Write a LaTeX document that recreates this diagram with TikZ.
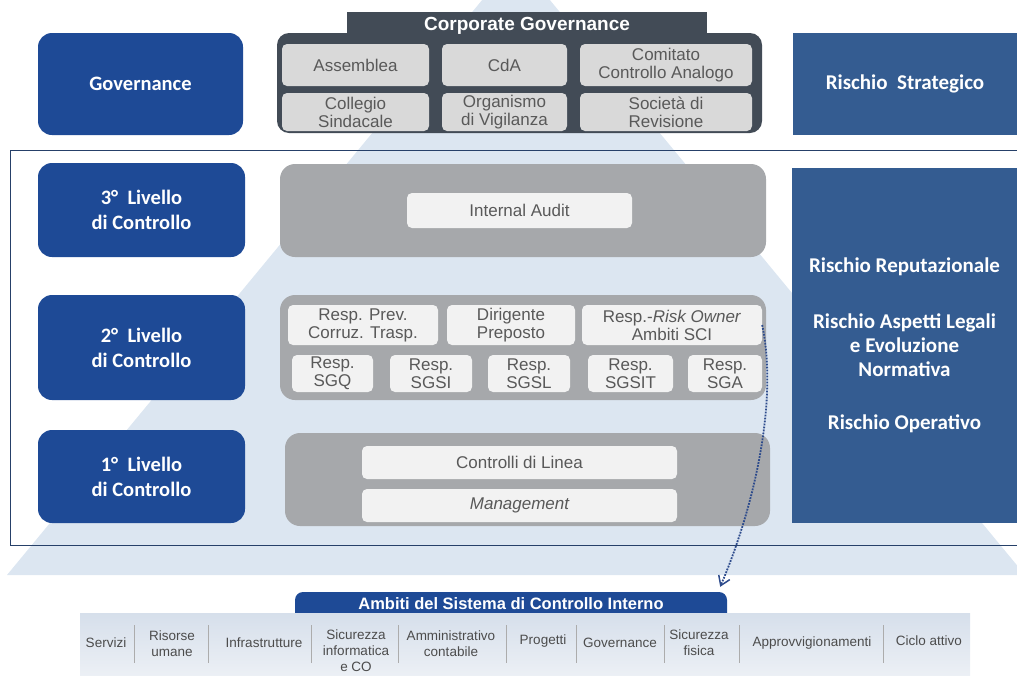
\documentclass[tikz,border=0pt]{standalone}
\usepackage{fontspec}
\setmainfont{Liberation Sans}
\newfontfamily\calibfont{Carlito}
\usetikzlibrary{arrows.meta}
\definecolor{lvlblue}{RGB}{30,74,150}
\definecolor{riskblue}{RGB}{52,92,145}
\definecolor{slate}{RGB}{66,75,86}
\definecolor{cglight}{RGB}{217,217,217}
\definecolor{levgray}{RGB}{166,168,171}
\definecolor{cellwhite}{RGB}{242,242,242}
\definecolor{pyramid}{RGB}{220,230,241}
\definecolor{txtgray}{RGB}{89,89,89}
\definecolor{framecol}{RGB}{38,64,105}
\definecolor{bandtop}{RGB}{214,223,235}
\definecolor{bandbot}{RGB}{236,240,245}
\definecolor{linkblue}{RGB}{45,75,140}
\tikzstyle{lvlbox}=[fill=lvlblue,rounded corners=14pt,text=white,align=center,inner sep=0pt,font=\calibfont\bfseries\fontsize{20.5}{25}\selectfont]
\tikzstyle{riskbox}=[fill=riskblue,text=white,align=center,inner sep=0pt,font=\calibfont\bfseries\fontsize{21}{24}\selectfont]
\tikzstyle{levelpanel}=[fill=levgray,rounded corners=15pt,inner sep=0pt]
\tikzstyle{cell}=[fill=cellwhite,rounded corners=5pt,text=txtgray,align=center,inner sep=0pt,font=\fontsize{17}{18}\selectfont]
\tikzstyle{cgcell}=[cell,fill=cglight]
\tikzstyle{ambitem}=[text=txtgray!85!black,align=center,inner sep=0pt,font=\fontsize{13.5}{16}\selectfont]
\tikzstyle{divider}=[draw=gray!65,line width=1pt]
\tikzstyle{dotlink}=[draw=linkblue,line width=1.8pt,dash pattern=on 1.8pt off 1.2pt,-{Straight Barb[length=9pt,width=12pt,line width=1.5pt]}]

\begin{document}
\begin{tikzpicture}[x=1pt,y=-1pt]
  \useasboundingbox (0,0) rectangle (1017,675);
  \fill[pyramid] (516,-41) -- (1025,575) -- (7,575) -- cycle;
  \draw[framecol,line width=0.8pt] (10,150) rectangle (1030,545);

  \node[lvlbox,minimum width=205,minimum height=102] (gov) at (140.5,84) {Governance};
  \node[fill=slate,rounded corners=12pt,minimum width=485,minimum height=100] (cg) at (519.5,83) {};
  \node[fill=slate,minimum width=360,minimum height=28,inner sep=0pt,text=white,font=\bfseries\fontsize{19}{20}\selectfont] (cghead) at (527,26) {Corporate Governance};
  \node[cgcell,minimum width=147,minimum height=42] (assemblea) at (355.5,65) {Assemblea};
  \node[cgcell,minimum width=125,minimum height=42] (cda) at (504.5,65) {CdA};
  \node[cgcell,minimum width=172,minimum height=42] (comitato) at (666,65) {Comitato\\Controllo Analogo};
  \node[cgcell,minimum width=147,minimum height=38] (collegio) at (355.5,112) {Collegio\\Sindacale};
  \node[cgcell,minimum width=125,minimum height=38] (odv) at (504.5,112) {Organismo\\di Vigilanza};
  \node[cgcell,minimum width=172,minimum height=38] (revisione) at (666,112) {Società di\\Revisione};
  \node[riskbox,minimum width=224,minimum height=102] (strat) at (905,84) {Rischio~~Strategico};

  \node[lvlbox,minimum width=207,minimum height=94] (l3) at (141.5,210) {3°~~Livello\\di Controllo};
  \node[levelpanel,minimum width=486,minimum height=93] (p3) at (523,210.5) {};
  \node[cell,minimum width=225,minimum height=35] (audit) at (519.5,210.5) {Internal Audit};

  \node[lvlbox,minimum width=207,minimum height=105] (l2) at (141.5,347.5) {2°~~Livello\\di Controllo};
  \node[levelpanel,minimum width=486,minimum height=105] (p2) at (523,347.5) {};
  \node[cell,minimum width=150,minimum height=40] (prev) at (363,325) {Resp. Prev.\\Corruz. Trasp.};
  \node[cell,minimum width=128,minimum height=40] (dirig) at (511,325) {Dirigente\\Preposto};
  \node[cell,minimum width=180,minimum height=40] (risk) at (672,325) {Resp.-\textit{Risk Owner}\\Ambiti SCI};
  \node[cell,minimum width=81,minimum height=37] (sgq) at (332.5,373.5) {Resp.\\SGQ};
  \node[cell,minimum width=82,minimum height=37] (sgsi) at (431,373.5) {Resp.\\SGSI};
  \node[cell,minimum width=82,minimum height=37] (sgsl) at (529,373.5) {Resp.\\SGSL};
  \node[cell,minimum width=85,minimum height=37] (sgsit) at (630.5,373.5) {Resp.\\SGSIT};
  \node[cell,minimum width=74,minimum height=37] (sga) at (725,373.5) {Resp.\\SGA};

  \node[lvlbox,minimum width=207,minimum height=93] (l1) at (141.5,476.5) {1°~~Livello\\di Controllo};
  \node[levelpanel,minimum width=485,minimum height=93] (p1) at (527.5,479.5) {};
  \node[cell,minimum width=315,minimum height=33] (linea) at (519.5,462.5) {Controlli di Linea};
  \node[cell,minimum width=315,minimum height=33] (mgmt) at (519.5,505.5) {\itshape Management};

  \node[riskbox,minimum width=225,minimum height=355] (risks) at (904.5,345.5)
    {Rischio Reputazionale\\[32pt]Rischio Aspetti Legali\\e Evoluzione\\Normativa\\[29pt]Rischio Operativo};

  \node[fill=lvlblue,rounded corners=8pt,minimum width=432,minimum height=33,inner sep=0pt,
    text height=16pt,text depth=15pt,text=white,font=\bfseries\fontsize{16.5}{18}\selectfont]
    (ambiti) at (511,608.5) {Ambiti del Sistema di Controllo Interno};
  \shade[top color=bandtop,bottom color=bandbot] (80,613) rectangle (970,676);
  \foreach \x in {134,208,311,398,506,576,664,739,883}
    \draw[divider] (\x,625) -- (\x,663);
  \node[ambitem] (servizi) at (106,643) {Servizi};
  \node[ambitem] (risorse) at (172,644) {Risorse\\umane};
  \node[ambitem] (infra) at (264,643) {Infrastrutture};
  \node[ambitem] (sicinf) at (356,651) {Sicurezza\\informatica\\e CO};
  \node[ambitem] (ammin) at (451,644) {Amministrativo\\contabile};
  \node[ambitem] (progetti) at (543,641) {Progetti};
  \node[ambitem] (govern) at (620,643) {Governance};
  \node[ambitem] (sicfis) at (699,643) {Sicurezza\\fisica};
  \node[ambitem] (approv) at (812,643) {Approvvigionamenti};
  \node[ambitem] (ciclo) at (929,641) {Ciclo attivo};

  \draw[dotlink] (risk.east) .. controls (778,400) and (755,505) .. ([xshift=-7pt,yshift=5pt]ambiti.north east);
\end{tikzpicture}
\end{document}
